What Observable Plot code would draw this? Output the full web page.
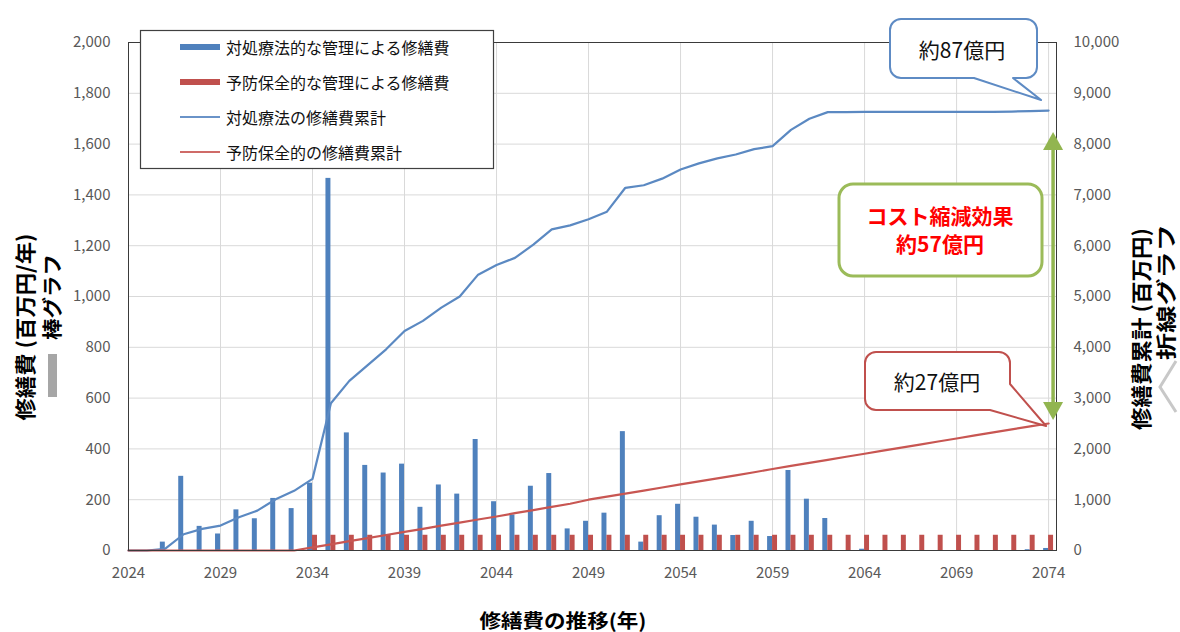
<!DOCTYPE html>
<html><head><meta charset="utf-8">
<script src="https://cdn.jsdelivr.net/npm/d3@7"></script>
<script src="https://cdn.jsdelivr.net/npm/@observablehq/plot@0.6"></script>
<style>
body{margin:0;background:#fff;}
#chart{position:relative;width:1180px;height:632px;overflow:hidden;background:#fff;}
</style></head><body><div id="chart"></div>
<script>
// ---- data ----
const years = [2024,2025,2026,2027,2028,2029,2030,2031,2032,2033,
  2034,2035,2036,2037,2038,2039,2040,2041,2042,2043,
  2044,2045,2046,2047,2048,2049,2050,2051,2052,2053,
  2054,2055,2056,2057,2058,2059,2060,2061,2062,2063,
  2064,2065,2066,2067,2068,2069,2070,2071,2072,2073,2074];
// 対処療法的な管理による修繕費 (百万円/年)
const blueBars = [0,0,33,292,95,65,160,125,205,165,
  265,1465,463,335,305,340,170,258,222,437,
  192,140,253,303,85,115,147,468,33,137,
  182,131,100,59,115,55,315,202,126,0,
  5,0,0,0,0,0,0,0,0,3,8];
// 予防保全的な管理による修繕費 (百万円/年)
const redBars = [0,0,0,0,0,0,0,0,0,0,
  60,60,60,60,60,60,60,60,60,60,
  60,60,60,60,60,60,60,60,60,60,
  60,60,60,60,60,60,60,60,60,60,
  60,60,60,60,60,60,60,60,60,60,60];
// 対処療法の修繕費累計 (百万円)
const blueCum = [0,0,35,320,425,490,655,785,1010,1175,
  1410,2900,3340,3650,3960,4320,4520,4780,5000,5430,
  5620,5760,6020,6320,6400,6520,6670,7140,7190,7320,
  7500,7620,7720,7795,7900,7960,8280,8500,8630,8630,
  8635,8635,8635,8635,8635,8635,8635,8635,8640,8650,8660];
// 予防保全的の修繕費累計 (百万円)
const redCum = [0,0,0,0,0,0,0,0,0,0,
  60,120,185,245,305,365,425,490,550,610,
  670,735,795,860,920,1000,1060,1120,1180,1240,
  1300,1360,1420,1480,1540,1605,1665,1725,1785,1845,
  1905,1965,2025,2085,2145,2205,2265,2325,2385,2445,2500];
const leftTicks = [0,200,400,600,800,1000,1200,1400,1600,1800,2000];
const xTicks = [2024,2029,2034,2039,2044,2049,2054,2059,2064,2069,2074];
const seriesNames = ["対処療法的な管理による修繕費","予防保全的な管理による修繕費","対処療法の修繕費累計","予防保全的の修繕費累計"];
const RATIO = 5; // right axis (累計) = left axis × 5

const BLUE = "#4F81BD", RED = "#C0504D", GREEN = "#92B550";
const FONT = "'Noto Sans CJK JP','Noto Sans',sans-serif";

const data = years.map((year, i) => ({year, blue: blueBars[i], red: redBars[i], blueCum: blueCum[i], redCum: redCum[i]}));

const chart = Plot.plot({
  width: 1180, height: 632,
  marginLeft: 128, marginRight: 124, marginTop: 42, marginBottom: 82,
  style: {fontFamily: FONT, fontSize: "15px", color: "#595959", background: "white"},
  x: {domain: [2024, 2074.43]},
  y: {domain: [0, 2000]},
  marks: [
    Plot.gridY(leftTicks, {stroke: "#d9d9d9", strokeOpacity: 1}),
    Plot.gridX(xTicks, {stroke: "#d9d9d9", strokeOpacity: 1}),
    Plot.rect(data, {x1: d => d.year - 0.27, x2: "year", y1: 0, y2: "blue", fill: BLUE}),
    Plot.rect(data, {x1: "year", x2: d => d.year + 0.27, y1: 0, y2: "red", fill: RED}),
    Plot.line(data, {x: "year", y: d => d.blueCum / RATIO, stroke: "#5B89C2", strokeWidth: 2.2}),
    Plot.line(data, {x: "year", y: d => d.redCum / RATIO, stroke: "#C85652", strokeWidth: 2.2}),
    Plot.frame({stroke: "#3a3a3a"}),
    Plot.axisY(leftTicks, {anchor: "left", tickSize: 0, tickPadding: 18, tickFormat: d3.format(","), label: null}),
    Plot.axisY(leftTicks, {anchor: "right", tickSize: 0, tickPadding: 17, tickFormat: d => d3.format(",")(d * RATIO), label: null}),
    Plot.axisX(xTicks, {tickSize: 0, tickPadding: 17, tickFormat: d => String(d), label: null})
  ]
});
document.getElementById("chart").appendChild(chart);

// ---- overlays (positioned via the plot's scales where tied to data) ----
const svg = d3.select(chart);
const sx = chart.scale("x"), sy = chart.scale("y");
const X = v => sx.apply(v), Y = v => sy.apply(v), YR = v => sy.apply(v / RATIO);
const g = svg.append("g").attr("font-family", FONT).attr("text-anchor", "start");

// axis titles
function vtext(cx, cy, txt, size, len, fill) {
  g.append("text").attr("transform", `translate(${cx},${cy}) rotate(-90)`)
    .attr("text-anchor", "middle").attr("dominant-baseline", "central")
    .attr("font-size", size).attr("font-weight", "bold").attr("fill", fill || "#000")
    .attr("textLength", len).attr("lengthAdjust", "spacingAndGlyphs").text(txt);
}
vtext(24, 327, "修繕費 (百万円/年)", 21, 187);
vtext(51, 297, "棒グラフ", 20, 86);
g.append("rect").attr("x", 48).attr("y", 354).attr("width", 9).attr("height", 43).attr("fill", "#A6A6A6");
vtext(1140, 329, "修繕費累計 (百万円)", 21, 202);
vtext(1165, 292, "折線グラフ", 20, 136);
g.append("polyline").attr("points", "1176,361 1160,387 1176,412").attr("fill", "none")
  .attr("stroke", "#C8C8C8").attr("stroke-width", 3);
g.append("text").attr("x", 563).attr("y", 619).attr("text-anchor", "middle").attr("dominant-baseline", "central")
  .attr("font-size", 19).attr("font-weight", "bold").attr("fill", "#000")
  .attr("textLength", 167).attr("lengthAdjust", "spacingAndGlyphs").text("修繕費の推移(年)");

// legend
const lg = g.append("g").attr("transform", "translate(140,30)");
lg.append("rect").attr("x", 0.5).attr("y", 0.5).attr("width", 353).attr("height", 138)
  .attr("fill", "#fff").attr("stroke", "#404040").attr("stroke-width", 1.2);
const legendItems = [
  {name: seriesNames[0], color: BLUE, w: 6},
  {name: seriesNames[1], color: RED, w: 6},
  {name: seriesNames[2], color: "#6A93C8", w: 2},
  {name: seriesNames[3], color: "#CF6B68", w: 2}
];
legendItems.forEach((it, i) => {
  const cy = 17 + i * 35;
  lg.append("line").attr("x1", 40).attr("x2", 80).attr("y1", cy).attr("y2", cy)
    .attr("stroke", it.color).attr("stroke-width", it.w);
  lg.append("text").attr("x", 86).attr("y", cy).attr("text-anchor", "start").attr("dominant-baseline", "central")
    .attr("font-size", 16).attr("fill", "#111").text(it.name);
});

// callout helper: rounded rect with a tail
function callout(x0, y0, x1, y1, r, tail, stroke, sw) {
  let p = `M${x0 + r},${y0} H${x1 - r} A${r},${r} 0 0 1 ${x1},${y0 + r}`;
  if (tail.side === "bottom") {
    p += ` V${y1 - r} A${r},${r} 0 0 1 ${x1 - r},${y1} H${tail.b2} L${tail.tx},${tail.ty} L${tail.b1},${y1}`;
  } else { // corner: from right edge to bottom edge
    p += ` V${tail.b2} L${tail.tx},${tail.ty} L${tail.b1},${y1}`;
  }
  p += ` H${x0 + r} A${r},${r} 0 0 1 ${x0},${y1 - r} V${y0 + r} A${r},${r} 0 0 1 ${x0 + r},${y0} Z`;
  g.append("path").attr("d", p).attr("fill", "#fff").attr("stroke", stroke).attr("stroke-width", sw).attr("stroke-linejoin", "round");
}
const endX = X(2074);
// 約87億円
callout(890, 19, 1037, 78, 11, {side: "bottom", b1: 974, b2: 1013, tx: endX - 7, ty: YR(8660) - 10}, "#5E8BC4", 2);
g.append("text").attr("x", 962).attr("y", 49).attr("text-anchor", "middle").attr("dominant-baseline", "central")
  .attr("font-size", 21).attr("fill", "#111").text("約87億円");
// 約27億円
callout(865, 352, 1010, 410, 11, {side: "corner", b1: 990, b2: 384, tx: endX - 2, ty: YR(2500) + 3}, "#C0504D", 2);
g.append("text").attr("x", 937).attr("y", 381).attr("text-anchor", "middle").attr("dominant-baseline", "central")
  .attr("font-size", 21).attr("fill", "#111").text("約27億円");

// cost-reduction arrow
const ax = endX + 5;
const yTop = YR(8230), yBot = YR(2560);
g.append("line").attr("x1", ax).attr("x2", ax).attr("y1", yTop + 14).attr("y2", yBot - 14)
  .attr("stroke", GREEN).attr("stroke-width", 3.5);
g.append("path").attr("d", `M${ax},${yTop} L${ax + 10},${yTop + 18} L${ax - 10},${yTop + 18} Z`).attr("fill", GREEN);
g.append("path").attr("d", `M${ax},${yBot} L${ax + 10},${yBot - 18} L${ax - 10},${yBot - 18} Z`).attr("fill", GREEN);

// green box
g.append("rect").attr("x", 839).attr("y", 184).attr("width", 203).attr("height", 92).attr("rx", 14)
  .attr("fill", "#fff").attr("stroke", "#9BBB59").attr("stroke-width", 3);
g.append("text").attr("x", 940).attr("y", 215).attr("text-anchor", "middle").attr("dominant-baseline", "central")
  .attr("font-size", 21).attr("font-weight", "bold").attr("fill", "#FF0000").text("コスト縮減効果");
g.append("text").attr("x", 940).attr("y", 243).attr("text-anchor", "middle").attr("dominant-baseline", "central")
  .attr("font-size", 21).attr("font-weight", "bold").attr("fill", "#FF0000").text("約57億円");
</script>
</body></html>
